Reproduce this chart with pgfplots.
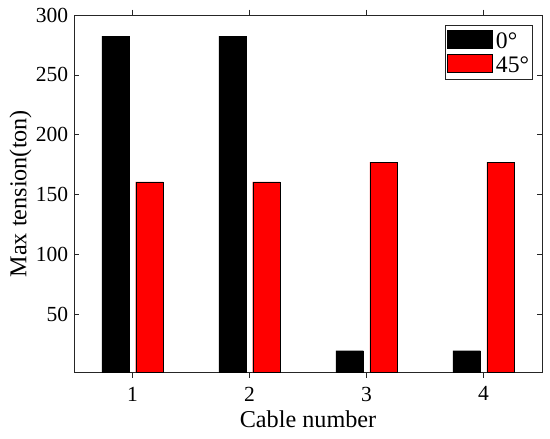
\documentclass[border=0pt]{standalone}
\usepackage{fontspec}
\setmainfont{Liberation Serif}
\usepackage{pgfplots}
\pgfplotsset{compat=1.18}
\definecolor{axgray}{RGB}{38,38,38}
\pgfplotsset{box legend/.style={legend image code/.code={\draw[##1] (0pt,-6.5pt) rectangle (42pt,10pt);}}}
\begin{document}
\begin{tikzpicture}
\begin{axis}[
  scale only axis, width=435pt, height=332pt,
  xmin=0.5, xmax=4.5, ymin=1.5, ymax=300,
  xtick={1,2,3,4}, ytick={50,100,150,200,250,300},
  tick align=inside, xtick pos=both, ytick pos=both,
  major tick length=5pt,
  axis line style={draw=axgray, line width=0.8pt},
  every tick/.style={axgray, line width=0.6pt},
  label style={font=\fontsize{22.5}{27}\selectfont},
  tick label style={font=\fontsize{20}{24}\selectfont},
  xticklabel style={yshift=-5pt},
  yticklabel style={xshift=-2pt},
  ylabel style={yshift=-3pt},
  xlabel style={yshift=-2pt},
  /pgf/number format/assume math mode=true,
  xlabel={Cable number}, ylabel={Max tension(ton)},
  ybar, bar width=0.235,
  legend style={at={(1,1)}, anchor=north east, xshift=-9.3pt, yshift=-9.3pt,
    draw=axgray, font=\fontsize{22}{22}\selectfont, inner xsep=1.5pt, inner ysep=4.5pt,
    row sep=3pt, cells={anchor=west}, nodes={inner sep=1pt},
    /tikz/every odd column/.append style={column sep=2pt}},
]
\addplot[fill=black, draw=black, bar shift=-0.145, box legend]
  coordinates {(1,282.5) (2,282.5) (3,19.5) (4,19.5)};
\addplot[fill=red, draw=black, bar shift=0.145, box legend]
  coordinates {(1,160.7) (2,160.7) (3,177.2) (4,177.2)};
\legend{0°,45°}
\end{axis}
\path (current axis.south west) ++(-68.8pt,-62pt);
\path (current axis.north east) ++(7.4pt,14pt);
\end{tikzpicture}
\end{document}
